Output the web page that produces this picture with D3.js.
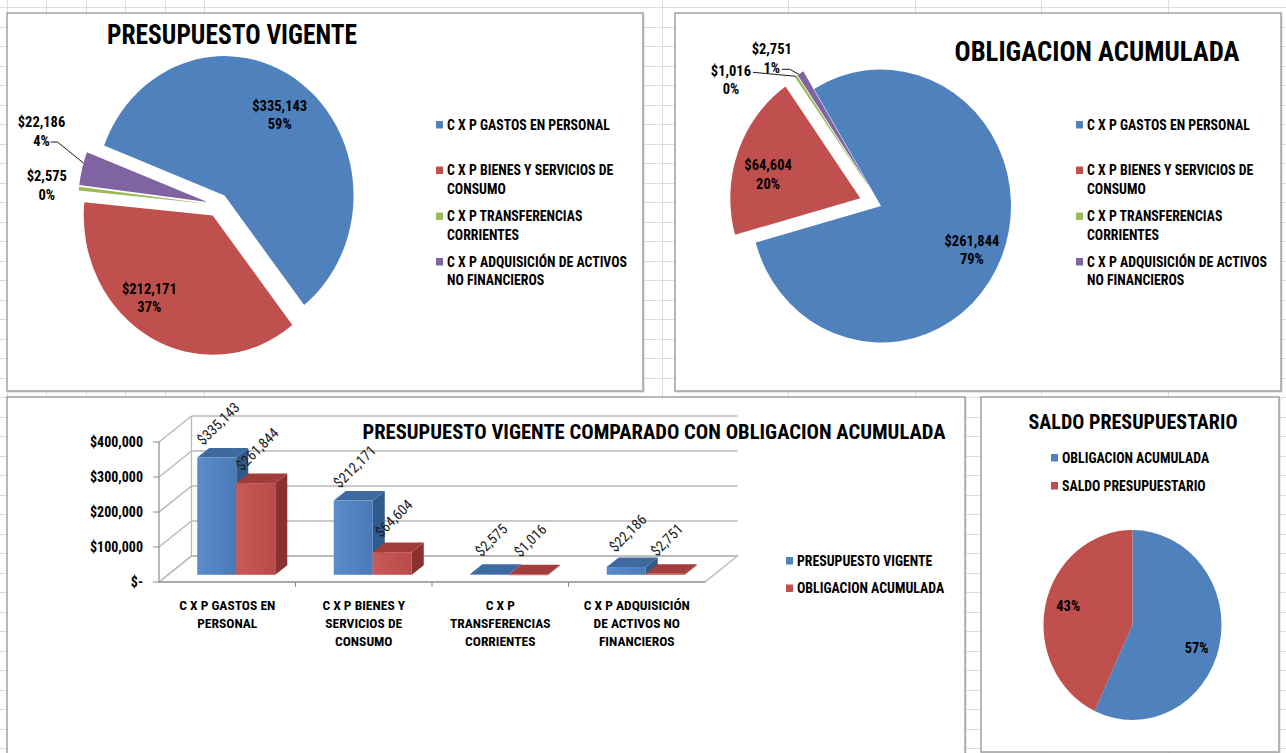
<!DOCTYPE html>
<html><head><meta charset="utf-8">
<script src="https://cdn.jsdelivr.net/npm/d3@7"></script>
<style>
body{margin:0;background:#fff}
svg{display:block}
text{font-family:"Liberation Sans Narrow","Arial Narrow","Roboto Condensed",sans-serif;fill:#000}
</style>
</head><body>
<svg id="c" width="1286" height="753"></svg>
<script>
// ---------------- DATA ----------------
const categories = ["C X P GASTOS EN PERSONAL","C X P BIENES Y SERVICIOS DE CONSUMO","C X P TRANSFERENCIAS CORRIENTES","C X P ADQUISICIÓN DE ACTIVOS NO FINANCIEROS"];
const presupuestoVigente = [335143, 212171, 2575, 22186];
const obligacionAcumulada = [261844, 64604, 1016, 2751];
const barSeriesNames = ["PRESUPUESTO VIGENTE","OBLIGACION ACUMULADA"];
const saldoNames = ["OBLIGACION ACUMULADA","SALDO PRESUPUESTARIO"];
const saldoPercent = [57, 43];
const yTickValues = [0, 100000, 200000, 300000, 400000];
const yTickLabels = ["$-", "$100,000", "$200,000", "$300,000", "$400,000"];
const pieLegendLines = [["C X P GASTOS EN PERSONAL"],["C X P BIENES Y SERVICIOS DE","CONSUMO"],["C X P TRANSFERENCIAS","CORRIENTES"],["C X P ADQUISICIÓN DE ACTIVOS","NO FINANCIEROS"]];
const barCategoryLines = [["C X P GASTOS EN","PERSONAL"],["C X P BIENES Y","SERVICIOS DE","CONSUMO"],["C X P","TRANSFERENCIAS","CORRIENTES"],["C X P ADQUISICIÓN","DE ACTIVOS NO","FINANCIEROS"]];
const titles = ["PRESUPUESTO VIGENTE","OBLIGACION ACUMULADA","PRESUPUESTO VIGENTE COMPARADO CON OBLIGACION ACUMULADA","SALDO PRESUPUESTARIO"];
const colors = ["#4F81BD","#C0504D","#9BBB59","#8064A2"];

// ---------------- HELPERS ----------------
const svg = d3.select("#c");
const money = v => "$" + d3.format(",")(v);
const pct = (v,t) => Math.round(100*v/t) + "%";
const rad = d => d*Math.PI/180;
function fit(sel, w){ sel.attr("textLength", w).attr("lengthAdjust","spacingAndGlyphs"); return sel; }

// ---------------- SPREADSHEET GRID ----------------
const gridG = svg.append("g").attr("stroke","#dcdcdc").attr("stroke-width",1);
[7,46,86,125,165,204,662,788,915,1041,1168].forEach(x=>gridG.append("line").attr("x1",x+0.5).attr("x2",x+0.5).attr("y1",0).attr("y2",753));
d3.range(7,753,19.5).forEach(y=>gridG.append("line").attr("x1",0).attr("x2",1286).attr("y1",Math.round(y)+0.5).attr("y2",Math.round(y)+0.5));

// ---------------- PANELS ----------------
const panels = [[7,13,636,378],[675,13,606,378],[7,397,958,370],[981,397,298,355]];
panels.forEach(p=>{
  svg.append("rect").attr("x",p[0]+1).attr("y",p[1]+1).attr("width",p[2]).attr("height",p[3]).attr("fill","none").attr("stroke","#d0d0d0").attr("stroke-width",1);
  svg.append("rect").attr("x",p[0]).attr("y",p[1]).attr("width",p[2]).attr("height",p[3]).attr("fill","#fff").attr("stroke","#9a9a9a").attr("stroke-width",1.4);
});

// ---------------- PIE ----------------
function drawPie(values, o){
  const total = d3.sum(values);
  const arcs = d3.pie().sort(null).startAngle(rad(o.start)).endAngle(rad(o.start+360))(values);
  const arc = d3.arc().innerRadius(0).outerRadius(o.r);
  const g = svg.append("g").attr("transform",`translate(${o.cx},${o.cy}) scale(1,${o.sy})`);
  const pt = (ang, rr) => [o.cx + rr*Math.sin(ang), o.cy - rr*Math.cos(ang)*o.sy];
  arcs.forEach((a,i)=>{
    const m=(a.startAngle+a.endAngle)/2, e=o.explode[i];
    g.append("path").attr("d",arc(a)).attr("fill",colors[i])
      .attr("transform",`translate(${e*Math.sin(m)},${-e*Math.cos(m)})`);
  });
  o.inside.forEach(L=>{
    const a=arcs[L.i], m=(a.startAngle+a.endAngle)/2, e=o.explode[L.i];
    const ap = pt(m, e);
    const la = m + rad(L.nudge);
    const p = [ap[0] + L.f*o.r*Math.sin(la), ap[1] - L.f*o.r*Math.cos(la)*o.sy];
    const lines = o.showValue ? [money(values[L.i]), pct(values[L.i],total)] : [pct(values[L.i],total)];
    lines.forEach((t,k)=>svg.append("text").attr("x",p[0]).attr("y",p[1]+(k-(lines.length-1)/2)*18.5+5)
      .attr("text-anchor","middle").attr("font-size",o.fs).attr("font-weight","bold").text(t));
  });
  (o.outside||[]).forEach(L=>{
    const a=arcs[L.i], e=o.explode[L.i];
    const ang = a.startAngle + L.af*(a.endAngle-a.startAngle);
    const tip = pt(ang, o.r+e);
    [money(values[L.i]), pct(values[L.i],total)].forEach((t,k)=>svg.append("text")
      .attr("x",tip[0]+L.dx).attr("y",tip[1]+L.dy+k*18.5+5).attr("text-anchor","middle")
      .attr("font-size",o.fs).attr("font-weight","bold").text(t));
    if(L.leader){
      const pts = L.leader.map(d=>[tip[0]+d[0],tip[1]+d[1]]).concat([tip]);
      svg.append("path").attr("d",d3.line()(pts)).attr("fill","none").attr("stroke","#000").attr("stroke-width",0.9);
    }
  });
}
function drawLegend(lines, x, ys, fs, lh, cols){
  lines.forEach((ls,i)=>{
    svg.append("rect").attr("x",x).attr("y",ys[i]-4).attr("width",7).attr("height",7.5).attr("fill",cols[i]);
    ls.forEach((t,k)=>svg.append("text").attr("x",x+11).attr("y",ys[i]+k*lh+4.8).attr("font-size",fs).attr("font-weight","bold").text(t));
  });
}

// Panel 1
fit(svg.append("text").attr("x",232).attr("y",44).attr("text-anchor","middle").attr("font-size",27).attr("font-weight","bold").text(titles[0]),250);
drawPie(presupuestoVigente,{cx:218,cy:205,r:129,sy:1.08,start:-69,explode:[11,11,11,11],fs:14.5,showValue:true,
  inside:[{i:0,f:0.72,nudge:0},{i:1,f:0.77,nudge:11}],
  outside:[{i:3,af:0.65,dx:-42,dy:-41,leader:[[-33,-21],[-26,-21]]},{i:2,af:0.5,dx:-32,dy:-12.5}]});
drawLegend(pieLegendLines,436,[125,170.5,216.5,262],13.8,18.3,colors);

// Panel 2
fit(svg.append("text").attr("x",1097).attr("y",61).attr("text-anchor","middle").attr("font-size",27).attr("font-weight","bold").text(titles[1]),285);
drawPie(obligacionAcumulada,{cx:881,cy:206,r:130,sy:1.05,start:-31,explode:[0,22,20,20],fs:14.5,showValue:true,
  inside:[{i:0,f:0.77,nudge:3},{i:1,f:0.73,nudge:-6}],
  outside:[{i:3,af:0.25,dx:-27,dy:-25,leader:[[-17,-5],[-9,-5]]},{i:2,af:0.5,dx:-65,dy:-5.5,leader:[[-43,-4]]}]});
drawLegend(pieLegendLines,1076,[125,170.5,216.5,262],13.8,18.3,colors);

// Panel 4
fit(svg.append("text").attr("x",1133).attr("y",429).attr("text-anchor","middle").attr("font-size",20).attr("font-weight","bold").text(titles[3]),209);
drawLegend(saldoNames.map(d=>[d]),1051,[458,486],13.8,18,colors);
drawPie(saldoPercent,{cx:1132.5,cy:625,r:89,sy:1.067,start:0,explode:[0,0],fs:14.5,showValue:false,
  inside:[{i:0,f:0.76,nudge:6},{i:1,f:0.75,nudge:3}]});

// ---------------- 3D BAR CHART ----------------
const bx = d3.scaleBand().domain(categories).range([159,705]);
const by = d3.scaleLinear().domain([0,400000]).range([582,442]);
const D = [32.5,-26];
const bg = svg.append("g");
const wallStroke = "#b8b8b8";
const y0 = by(0);
bg.append("path").attr("d",d3.line()([[159,y0],[705,y0],[705+D[0],y0+D[1]],[159+D[0],y0+D[1]]])+"Z").attr("fill","#fff").attr("stroke",wallStroke).attr("stroke-width",1.3);
yTickValues.forEach(v=>{
  const y=by(v);
  bg.append("line").attr("x1",159+D[0]).attr("x2",705+D[0]).attr("y1",y+D[1]).attr("y2",y+D[1]).attr("stroke",wallStroke).attr("stroke-width",1.5);
  bg.append("line").attr("x1",159).attr("x2",159+D[0]).attr("y1",y).attr("y2",y+D[1]).attr("stroke",wallStroke).attr("stroke-width",1.5);
  bg.append("line").attr("x1",153).attr("x2",159).attr("y1",y).attr("y2",y).attr("stroke","#8a8a8a").attr("stroke-width",1);
});
bg.append("line").attr("x1",159+D[0]).attr("x2",159+D[0]).attr("y1",by(400000)+D[1]).attr("y2",y0+D[1]).attr("stroke",wallStroke).attr("stroke-width",1.3);
bg.append("line").attr("x1",159).attr("x2",159).attr("y1",by(400000)).attr("y2",y0).attr("stroke","#8a8a8a").attr("stroke-width",1.2);
bg.append("line").attr("x1",159).attr("x2",705).attr("y1",y0).attr("y2",y0).attr("stroke","#8a8a8a").attr("stroke-width",1.2);
d3.range(1,categories.length).forEach(i=>{
  const x=bx(categories[i]);
  bg.append("line").attr("x1",x).attr("x2",x).attr("y1",y0).attr("y2",y0+5).attr("stroke","#8a8a8a");
});
yTickValues.forEach((v,i)=>svg.append("text").attr("x",143).attr("y",by(v)+5).attr("text-anchor","end").attr("font-size",14).attr("font-weight","bold").text(yTickLabels[i]));

fit(svg.append("text").attr("x",654).attr("y",438.5).attr("text-anchor","middle").attr("font-size",20).attr("font-weight","bold").text(titles[2]),583);

const defs = svg.append("defs");
[["gB","#5a8dcb","#4a7ab6"],["gR","#c95a57","#b84a47"]].forEach(g=>{
  const lg=defs.append("linearGradient").attr("id",g[0]).attr("x1","0").attr("x2","1").attr("y1","0").attr("y2","0");
  lg.append("stop").attr("offset","0").attr("stop-color",g[1]);
  lg.append("stop").attr("offset","1").attr("stop-color",g[2]);
});
const faces = [{front:"url(#gB)",top:"#3d6a9f",side:"#2f5a8c"},{front:"url(#gR)",top:"#a13e3b",side:"#8a302e"}];
const fF=0.277, fB=0.647;
const bw = bx.bandwidth()/3.5;
const series=[presupuestoVigente, obligacionAcumulada];
categories.forEach((c,i)=>{
  series.forEach((s,k)=>{
    const L = bx(c)+0.75*bw + k*bw, R = L+bw, T = by(s[i]);
    const f=[D[0]*fF,D[1]*fF], b=[D[0]*fB,D[1]*fB];
    const st=faces[k];
    bg.append("path").attr("d",d3.line()([[R+f[0],T+f[1]],[R+b[0],T+b[1]],[R+b[0],y0+b[1]],[R+f[0],y0+f[1]]])+"Z").attr("fill",st.side);
    bg.append("path").attr("d",d3.line()([[L+f[0],T+f[1]],[R+f[0],T+f[1]],[R+b[0],T+b[1]],[L+b[0],T+b[1]]])+"Z").attr("fill",st.top);
    bg.append("rect").attr("x",L+f[0]).attr("y",T+f[1]).attr("width",bw).attr("height",Math.max(0.8,y0-T)).attr("fill",st.front);
  });
});
categories.forEach((c,i)=>{
  series.forEach((s,k)=>{
    const L = bx(c)+0.75*bw + k*bw, T = by(s[i]);
    const cx = L + bw/2 + D[0]*fF + 1.5, cy = T + D[1]*fF - 34;
    svg.append("text").attr("transform",`translate(${cx},${cy}) rotate(-45)`).attr("text-anchor","middle").attr("dy","0.35em")
      .attr("font-size",14.5).style("fill","#1e1e1e").text(money(s[i]));
  });
});
barCategoryLines.forEach((ls,i)=>{
  const x = bx(categories[i])+bx.bandwidth()/2;
  ls.forEach((t,k)=>svg.append("text").attr("x",x).attr("y",609.5+k*18).attr("text-anchor","middle").attr("font-size",13.5).attr("font-weight","bold").text(t));
});
drawLegend(barSeriesNames.map(d=>[d]),786,[561,588.5],13.8,18,colors);
</script>
</body></html>
